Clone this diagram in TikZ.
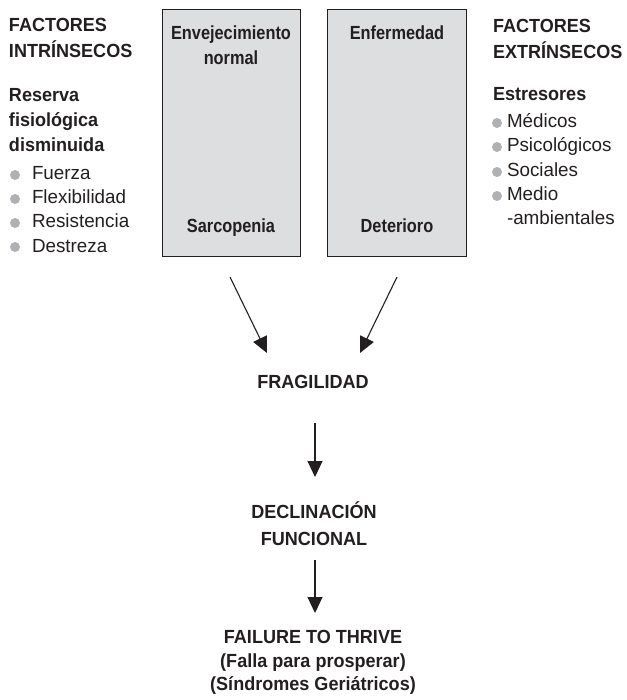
\documentclass[tikz,border=0pt]{standalone}
\usepackage{fontspec}
\setmainfont{Liberation Sans}[BoldFeatures={FakeStretch=0.95},UprightFeatures={FakeStretch=0.99}]
\newfontfamily\boxfont{Liberation Sans Bold}[FakeStretch=0.86]
\usetikzlibrary{arrows.meta}
\definecolor{txt}{HTML}{231F20}
\definecolor{boxfill}{HTML}{DDDEE0}
\definecolor{bul}{HTML}{B0B1B4}
\tikzset{
  every node/.style={inner sep=0pt, outer sep=0pt, text=txt, font=\fontsize{19}{22}\selectfont},
  lbl/.style={anchor=base west},
  hd/.style={anchor=base west, font=\fontsize{19}{22}\selectfont\bfseries},
  ctr/.style={anchor=base, font=\fontsize{19}{22}\selectfont\bfseries},
  boxlbl/.style={anchor=base, font=\fontsize{19}{22}\boxfont},
  bigbox/.style={draw=txt, line width=1pt, fill=boxfill},
  bulletdot/.style={circle, fill=bul, minimum size=10pt},
  arr/.style={draw=txt, line width=1.1pt, -{Triangle[length=16pt,width=15pt]}}
}
\begin{document}
\begin{tikzpicture}[x=1pt,y=-1pt]
\useasboundingbox (0,0) rectangle (626,700);
% boxes
\node[bigbox, minimum width=138pt, minimum height=246pt, anchor=north west] (boxA) at (162,10) {};
\node[bigbox, minimum width=139pt, minimum height=246pt, anchor=north west] (boxB) at (327,10) {};
\node[boxlbl] (envej) at (231,40) {Envejecimiento};
\node[boxlbl] (normal) at (231,65) {normal};
\node[boxlbl] (sarc) at (231,233) {Sarcopenia};
\node[boxlbl] (enf) at (397,40) {Enfermedad};
\node[boxlbl] (det) at (397,233) {Deterioro};
% left column
\node[hd] (fi1) at (9,32) {FACTORES};
\node[hd] (fi2) at (9,58) {INTRÍNSECOS};
\node[hd] (rf1) at (9,102) {Reserva};
\node[hd] (rf2) at (9,127) {fisiológica};
\node[hd] (rf3) at (9,152) {disminuida};
\node[lbl] (l1) at (32,180) {Fuerza};
\node[lbl] (l2) at (32,204) {Flexibilidad};
\node[lbl] (l3) at (32,228) {Resistencia};
\node[lbl] (l4) at (32,252) {Destreza};
\node[bulletdot] (b1) at (15,175) {};
\node[bulletdot] (b2) at (15,199) {};
\node[bulletdot] (b3) at (15,223) {};
\node[bulletdot] (b4) at (15,247) {};
% right column
\node[hd] (fe1) at (493,33) {FACTORES};
\node[hd] (fe2) at (493,59) {EXTRÍNSECOS};
\node[hd] (es) at (493,101) {Estresores};
\node[lbl] (r1) at (507,128) {Médicos};
\node[lbl] (r2) at (507,152) {Psicológicos};
\node[lbl] (r3) at (507,177) {Sociales};
\node[lbl] (r4) at (507,201) {Medio};
\node[lbl] (r5) at (507,225) {-ambientales};
\node[bulletdot] (c1) at (497,123) {};
\node[bulletdot] (c2) at (497,147) {};
\node[bulletdot] (c3) at (497,172) {};
\node[bulletdot] (c4) at (497,196) {};
% flow
\node[ctr] (frag) at (313,388) {FRAGILIDAD};
\node[ctr] (decl1) at (314,518) {DECLINACIÓN};
\node[ctr] (decl2) at (314,545) {FUNCIONAL};
\node[ctr] (ftt1) at (313,643) {FAILURE TO THRIVE};
\node[ctr] (ftt2) at (313,667) {(Falla para prosperar)};
\node[ctr] (ftt3) at (313,690) {(Síndromes Geriátricos)};
% connector end points
\coordinate (a1s) at (230,277);
\coordinate (a1e) at (267,353);
\coordinate (a2s) at (397,277);
\coordinate (a2e) at (360,353);
\coordinate (a3s) at (315,423);
\coordinate (a3e) at (315,477);
\coordinate (a4s) at (315,560);
\coordinate (a4e) at (315,613);
\draw[arr] (a1s) -- (a1e);
\draw[arr] (a2s) -- (a2e);
\draw[arr] (a3s) -- (a3e);
\draw[arr] (a4s) -- (a4e);
\end{tikzpicture}
\end{document}
